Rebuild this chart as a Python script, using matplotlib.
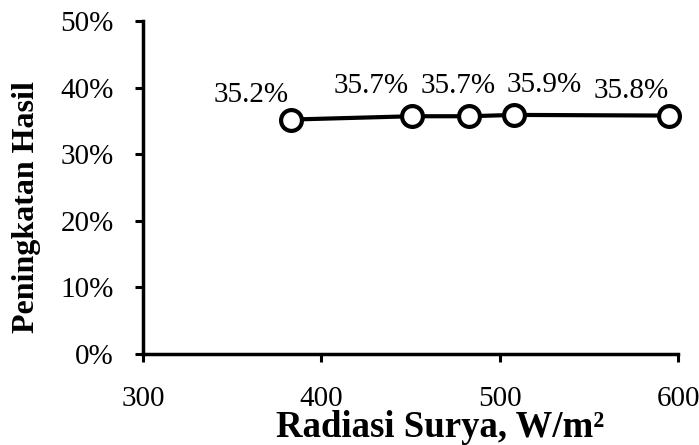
import matplotlib
matplotlib.use("Agg")
import matplotlib.pyplot as plt
from matplotlib.ticker import FuncFormatter

# data
radiasi = [383, 451, 483, 508, 595]
peningkatan = [35.2, 35.7, 35.7, 35.9, 35.8]
x_ticks = [300, 400, 500, 600]
y_ticks = [0, 10, 20, 30, 40, 50]

# label offsets (points), placed by hand like the original
label_offsets = [(-29, 17.5), (-30, 21.5), (-8, 21.5), (22, 21.5), (-27, 17.5)]

plt.rcParams["font.family"] = ["Liberation Serif", "DejaVu Serif"]

fig = plt.figure(figsize=(6.99, 4.45), dpi=100)
ax = fig.add_axes([0.2046, 0.2045, 0.7654, 0.7483])

ax.plot(radiasi, peningkatan, color="black", lw=3, marker="o",
        markersize=15, markerfacecolor="white", markeredgecolor="black",
        markeredgewidth=3, zorder=3, clip_on=False)

for xv, yv, off in zip(radiasi, peningkatan, label_offsets):
    ax.annotate("{:.1f}%".format(yv), (xv, yv), xytext=off,
                textcoords="offset points", ha="center", va="center",
                fontsize=21)

ax.set_xlim(300, 600)
ax.set_ylim(0, 50)
ax.set_xticks(x_ticks)
ax.set_yticks(y_ticks)
ax.yaxis.set_major_formatter(FuncFormatter(lambda v, p: "{:.0f}%".format(v)))

for side in ["top", "right"]:
    ax.spines[side].set_visible(False)
for side in ["left", "bottom"]:
    ax.spines[side].set_linewidth(2.5)

ax.tick_params(axis="both", direction="out", length=6, width=2.2,
               labelsize=21)
ax.tick_params(axis="x", pad=17)
ax.tick_params(axis="y", pad=15)

ax.set_xlabel("Radiasi Surya, W/m²", fontsize=26.5, fontweight="bold")
ax.set_ylabel("Peningkatan Hasil", fontsize=23, fontweight="bold")
ax.xaxis.label.set_va("center")
ax.yaxis.label.set_va("center")
ax.xaxis.set_label_coords(0.555, -0.22)
ax.yaxis.set_label_coords(-0.218, 0.44)

fig.savefig("out.png", dpi=100)
